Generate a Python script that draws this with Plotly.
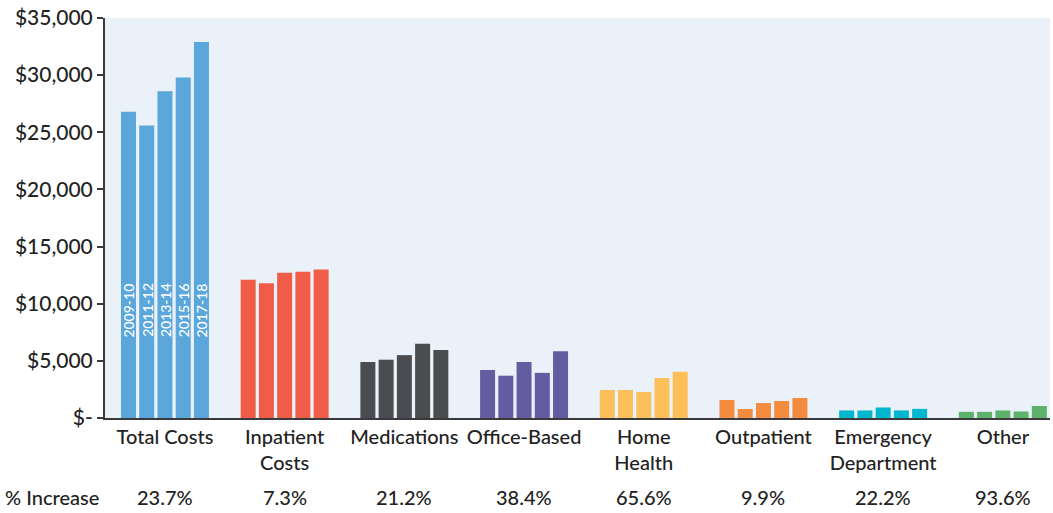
import plotly.graph_objects as go

# Cost categories shown along the x axis
categories = ["Total Costs", "Inpatient<br>Costs", "Medications", "Office-Based",
              "Home<br>Health", "Outpatient", "Emergency<br>Department", "Other"]
pct_increase = ["23.7%", "7.3%", "21.2%", "38.4%", "65.6%", "9.9%", "22.2%", "93.6%"]
periods = ["2009-10", "2011-12", "2013-14", "2015-16", "2017-18"]

# Mean cost per category for each survey period
cost_2009_10 = [26800, 12100, 4900, 4200, 2450, 1575, 660, 540]
cost_2011_12 = [25600, 11800, 5100, 3700, 2450, 790, 660, 540]
cost_2013_14 = [28600, 12700, 5500, 4900, 2275, 1310, 920, 660]
cost_2015_16 = [29800, 12800, 6500, 3950, 3500, 1490, 660, 570]
cost_2017_18 = [32900, 13000, 5950, 5830, 4050, 1750, 800, 1050]
series = [cost_2009_10, cost_2011_12, cost_2013_14, cost_2015_16, cost_2017_18]

cat_colors = ["#5ba6da", "#ef5c48", "#4a4c4f", "#635ca0",
              "#fdbf5a", "#f48c3f", "#00b7cd", "#5cb26b"]

y_ticks = [0, 5000, 10000, 15000, 20000, 25000, 30000, 35000]
y_ticktext = ["$-", "$5,000", "$10,000", "$15,000", "$20,000", "$25,000", "$30,000", "$35,000"]

FONT = "Lato"
WEIGHT = 500
TXT = "#222222"
AXIS = "#3a3a3c"
BARGAP = 0.238
GROUPGAP = 0.178

xs = list(range(len(categories)))
fig = go.Figure()
for name, vals in zip(periods, series):
    fig.add_trace(go.Bar(x=xs, y=vals, name=name, marker_color=cat_colors,
                         marker_line_width=0, showlegend=False))

# Period labels written vertically inside the Total Costs bars
slot = (1 - BARGAP) / len(periods)
for j, name in enumerate(periods):
    fig.add_annotation(x=0 + (j - 2) * slot, y=6900, text=name, textangle=-90,
                       showarrow=False, yanchor="bottom", xanchor="center",
                       font=dict(family=FONT, size=14, color="white", weight=WEIGHT))

# Percent increase row under the axis
fig.add_annotation(xref="paper", yref="paper", x=-0.108, y=-0.198, text="% Increase",
                   showarrow=False, xanchor="left", yanchor="middle",
                   font=dict(family=FONT, size=20, color=TXT, weight=WEIGHT))
for i, p in enumerate(pct_increase):
    fig.add_annotation(x=i, yref="paper", y=-0.198, text=p, showarrow=False,
                       xanchor="center", yanchor="middle",
                       font=dict(family=FONT, size=20, color=TXT, weight=WEIGHT))

fig.update_layout(
    width=1053, height=513,
    margin=dict(l=105, r=3, t=18, b=95),
    paper_bgcolor="white", plot_bgcolor="#eaf1f9",
    barmode="group", bargap=BARGAP, bargroupgap=GROUPGAP,
    font=dict(family=FONT, color=TXT),
)
fig.update_xaxes(range=[-0.501, 7.394], tickmode="array", tickvals=xs, ticktext=categories,
                 showgrid=False, zeroline=False, showline=True, linecolor=AXIS, linewidth=2,
                 ticks="", tickfont=dict(family=FONT, size=20, color=TXT, weight=WEIGHT))
fig.update_yaxes(range=[0, 35000], tickmode="array", tickvals=y_ticks, ticktext=y_ticktext,
                 showgrid=False, zeroline=False, showline=True, linecolor=AXIS, linewidth=2,
                 ticks="outside", ticklen=6, tickwidth=2, tickcolor=AXIS,
                 tickfont=dict(family=FONT, size=21, color=TXT, weight=WEIGHT))

fig.write_html("out.html")
